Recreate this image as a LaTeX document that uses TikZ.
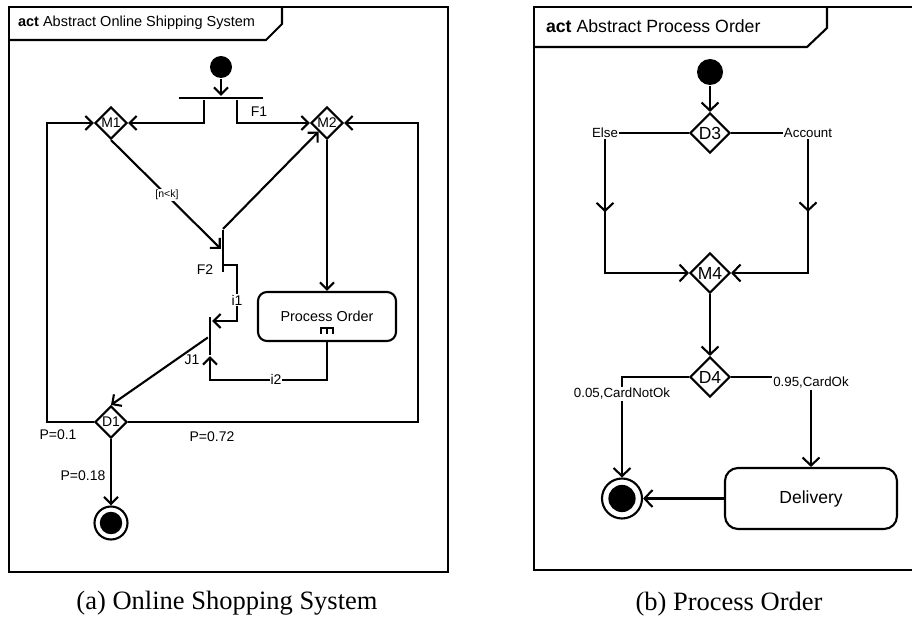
\documentclass[tikz,border=0pt]{standalone}
\usepackage{fontspec}
\setmainfont{Liberation Serif}
\setsansfont{Liberation Sans}
\usetikzlibrary{arrows.meta}
\usetikzlibrary{shapes.geometric}
\usetikzlibrary{decorations.markings}

\tikzset{
  flow/.style={-{Straight Barb[length=7pt,width=14pt]}},
  flowR/.style={-{Straight Barb[length=8pt,width=17pt]}},
  midarrow/.style={postaction={decorate,decoration={markings,mark=at position #1 with {\arrow{Straight Barb[length=8pt,width=17pt]}}}}},
  syncbar/.style={rectangle,fill=black,inner sep=0pt},
  initnode/.style={circle,fill=black,inner sep=0pt,minimum size=#1},
  finalnode/.style={circle,draw,inner sep=0pt,minimum size=#1,path picture={\fill (path picture bounding box.center) circle[radius=0.34*#1];}},
  decision/.style={diamond,draw,inner sep=0pt,minimum size=32pt,font=\sffamily\fontsize{14}{16}\selectfont},
  decisionR/.style={diamond,draw,inner sep=0pt,minimum size=40pt,font=\sffamily\fontsize{17.5}{20}\selectfont},
  actbox/.style={rectangle,draw,rounded corners=9pt,minimum width=138pt,minimum height=49pt,font=\sffamily\fontsize{14.4}{17}\selectfont},
  actboxR/.style={rectangle,draw,rounded corners=13pt,minimum width=172pt,minimum height=61pt,font=\sffamily\fontsize{17.5}{20}\selectfont},
  lbl/.style={inner sep=1pt,font=\sffamily\fontsize{14}{16}\selectfont},
  lblR/.style={inner sep=1pt,font=\sffamily\fontsize{13.3}{15}\selectfont},
  frametitle/.style={anchor=west,inner sep=0pt,font=\sffamily\fontsize{#1}{#1}\selectfont},
  figcap/.style={inner sep=0pt,font=\rmfamily\fontsize{26.5}{30}\selectfont}
}

\begin{document}
\begin{tikzpicture}[x=1pt,y=-1pt,line width=2.1pt]
\useasboundingbox (0,0) rectangle (912,620);
\draw (9,7) rectangle (448,572);
\draw (9,40) -- (266,40) -- (282,24) -- (282,7);
\node[frametitle=14.5] (ttlA) at (17,23) {\textbf{act} Abstract Online Shipping System};
\draw (912,7) -- (534,7) -- (534,570) -- (912,570);
\draw (534,47) -- (807,47) -- (827,28) -- (827,7);
\node[frametitle=17.7] (ttlB) at (545,26) {\textbf{act} Abstract Process Order};

\node[initnode=22pt] (init1) at (221,67) {};
\node[syncbar,minimum width=84pt,minimum height=2.2pt] (F1) at (221,98) {};
\node[decision] (M1) at (111,123) {M1};
\node[decision] (M2) at (327,123) {M2};
\node[syncbar,minimum width=2.2pt,minimum height=42pt] (F2) at (223,251) {};
\node[syncbar,minimum width=2.2pt,minimum height=38pt] (J1) at (210,336) {};
\node[actbox] (PO) at (327,316.5) {Process Order};
\node[decision] (D1) at (111,422) {D1};
\node[finalnode=33pt] (fin1) at (111,523) {};

\draw[flow] (init1) -- (F1);
\draw[flow] ([xshift=-17pt]F1.south) |- (M1);
\draw[flow] ([xshift=16pt]F1.south) |- (M2);
\draw[flow] (M1.south) -- (F2);
\draw[flow] (F2.north) -- (M2);
\draw[flow] ([yshift=-14pt]F2.center) -- ++(14,0) |- ([yshift=-5pt]J1.north east);
\draw[flow] (M2) -- (PO);
\draw[flow] (PO.south) -- ++(0,38) -| (J1.south);
\draw[flow] (J1) -- (D1.north);
\draw[flow] (D1.west) -- ++(-47,0) |- (M1.west);
\draw[flow] (D1.east) -- ++(290,0) |- (M2.east);
\draw[flow] (D1) -- (fin1);
\draw[line width=1.6pt] (PO.south) ++(-6,-8) -- ++(0,-6) -- ++(12,0) -- ++(0,6) (PO.south) ++(0,-14) -- ++(0,6);

\node[lbl] (lF1) at (259,112) {F1};
\node[lbl] (lF2) at (205,270) {F2};
\node[lbl] (lJ1) at (192,360) {J1};
\node[lbl,fill=white] (li1) at (237,300) {i1};
\node[lbl,fill=white] (li2) at (276,379) {i2};
\node[lbl,fill=white,font=\sffamily\fontsize{10.5}{12}\selectfont] (lguard) at (167,195) {[n<k]};
\node[lbl] (lP1) at (58,435) {P=0.1};
\node[lbl] (lP72) at (212,437) {P=0.72};
\node[lbl] (lP18) at (83,476) {P=0.18};

\node[initnode=26pt] (init2) at (710,72) {};
\node[decisionR] (D3) at (710,133) {D3};
\node[decisionR] (M4) at (710,273) {M4};
\node[decisionR] (D4) at (710,377) {D4};
\node[actboxR] (Del) at (811,498.5) {Delivery};
\node[finalnode=40pt] (fin2) at (622,498.5) {};
\coordinate (elseC) at (605,133);
\coordinate (accC) at (808,133);

\draw[flowR] (init2) -- (D3);
\draw[flowR,midarrow=0.53] (D3.west) -- (elseC) |- (M4.west);
\draw[flowR,midarrow=0.53] (D3.east) -- (accC) |- (M4.east);
\draw[flowR] (M4) -- (D4);
\draw[flowR] (D4.west) -| (fin2);
\draw[flowR] (D4.east) -| (Del);
\draw[flowR] (Del) -- (fin2);

\node[lblR,fill=white] (lElse) at (elseC) {Else};
\node[lblR,fill=white] (lAcc) at (accC) {Account};
\node[lblR,fill=white] (lNot) at (622,394) {0.05,CardNotOk};
\node[lblR,fill=white] (lOk) at (811,383) {0.95,CardOk};

\node[figcap] (capA) at (227,603) {(a) Online Shopping System};
\node[figcap] (capB) at (729,604) {(b) Process Order};
\end{tikzpicture}
\end{document}
